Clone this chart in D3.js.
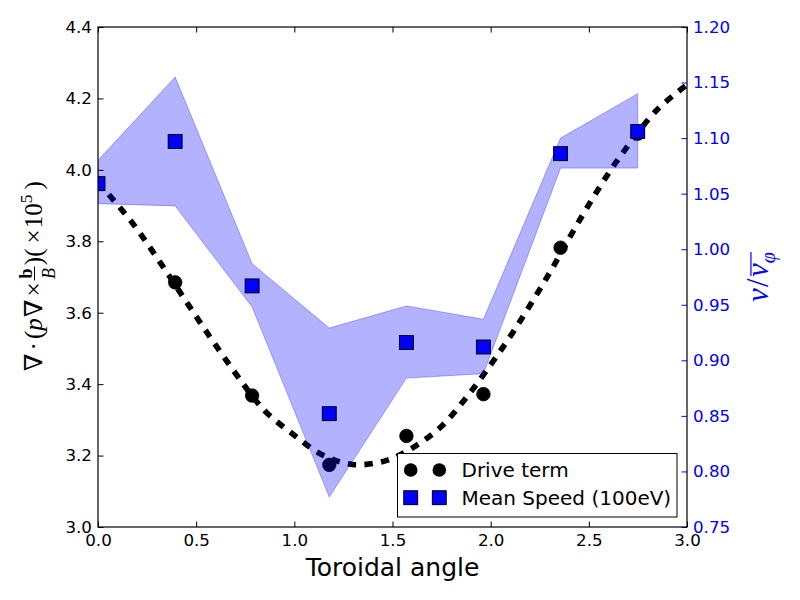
<!DOCTYPE html>
<html><head><meta charset="utf-8">
<script src="https://cdn.jsdelivr.net/npm/d3@7"></script>
<style>body{margin:0;background:#fff}</style>
</head><body><svg id="c" width="800" height="600"></svg>
<script>
// ---- data ----
const angles = [0, 0.393, 0.785, 1.178, 1.571, 1.963, 2.356, 2.749];
const driveTerm = [3.963, 3.685, 3.368, 3.174, 3.255, 3.372, 3.782, 4.101];
const meanSpeed = [1.059, 1.097, 0.967, 0.852, 0.916, 0.912, 1.086, 1.106];
const speedUpper = [1.080, 1.155, 0.987, 0.929, 0.949, 0.937, 1.100, 1.140];
const speedLower = [1.041, 1.039, 0.948, 0.777, 0.884, 0.888, 1.073, 1.073];
const fitX = [0, 0.177, 0.325, 0.464, 0.608, 0.784, 0.859, 0.995, 1.139, 1.297, 1.467, 1.615, 1.750, 1.861, 1.971, 2.112, 2.290, 2.455, 2.637, 2.849, 3.0];
const fitY = [3.966, 3.850, 3.734, 3.619, 3.502, 3.368, 3.320, 3.259, 3.203, 3.175, 3.186, 3.226, 3.282, 3.352, 3.432, 3.544, 3.702, 3.861, 4.020, 4.169, 4.238];
const xTicks = [0, 0.5, 1.0, 1.5, 2.0, 2.5, 3.0];
const leftTicks = [3.0, 3.2, 3.4, 3.6, 3.8, 4.0, 4.2, 4.4];
const rightTicks = [0.75, 0.80, 0.85, 0.90, 0.95, 1.00, 1.05, 1.10, 1.15, 1.20];
const legendLabels = ["Drive term", "Mean Speed (100eV)"];
const xLabel = "Toroidal angle";

const L = 98, R = 687, T = 27, B = 527;
const svg = d3.select("#c");
svg.append("rect").attr("width", 800).attr("height", 600).attr("fill", "#fff");

const x = d3.scaleLinear().domain([0, 3.0]).range([L, R]);
const yL = d3.scaleLinear().domain([3.0, 4.4]).range([B, T]);
const yR = d3.scaleLinear().domain([0.75, 1.20]).range([B, T]);

svg.append("defs").append("clipPath").attr("id", "clip")
  .append("rect").attr("x", L).attr("y", T).attr("width", R - L).attr("height", B - T);
const plot = svg.append("g").attr("clip-path", "url(#clip)");

// fitted dashed curve (left axis)
plot.append("path")
  .datum(fitX.map((d, i) => [d, fitY[i]]))
  .attr("d", d3.line().x(d => x(d[0])).y(d => yL(d[1])).curve(d3.curveCatmullRom))
  .attr("fill", "none").attr("stroke", "#000").attr("stroke-width", 5.6)
  .attr("stroke-dasharray", "8.33,8.33");

// drive term circles
plot.selectAll("circle.drive").data(angles).enter().append("circle")
  .attr("class", "drive")
  .attr("cx", d => x(d)).attr("cy", (d, i) => yL(driveTerm[i]))
  .attr("r", 6.8).attr("fill", "#000").attr("stroke", "#000").attr("stroke-width", 0.7);

// band (right axis)
plot.append("path")
  .datum(angles.map((d, i) => [d, speedLower[i], speedUpper[i]]))
  .attr("d", d3.area().x(d => x(d[0])).y0(d => yR(d[1])).y1(d => yR(d[2])))
  .attr("fill", "#0000ff").attr("fill-opacity", 0.3)
  .attr("stroke", "#0000ff").attr("stroke-opacity", 0.3).attr("stroke-width", 1);

// mean speed squares
const S = 13.9;
plot.selectAll("rect.speed").data(angles).enter().append("rect")
  .attr("class", "speed")
  .attr("x", d => x(d) - S / 2).attr("y", (d, i) => yR(meanSpeed[i]) - S / 2)
  .attr("width", S).attr("height", S)
  .attr("fill", "#0000ff").attr("stroke", "#000").attr("stroke-width", 1);

// axes
const tickFont = "DejaVu Sans, sans-serif";
function styleAxis(g, color) {
  g.select(".domain").remove();
  g.selectAll("text").attr("font-family", tickFont).attr("font-size", 16.7).attr("fill", color);
  g.selectAll("line").attr("stroke", color).attr("stroke-width", 1);
}
svg.append("g").attr("transform", `translate(0,${B})`)
  .call(d3.axisBottom(x).tickValues(xTicks).tickFormat(d3.format(".1f")).tickSizeInner(-5.5).tickSizeOuter(0).tickPadding(7))
  .call(g => styleAxis(g, "#000"));
svg.append("g").attr("transform", `translate(0,${T})`)
  .call(d3.axisTop(x).tickValues(xTicks).tickFormat("").tickSizeInner(-5.5).tickSizeOuter(0))
  .call(g => styleAxis(g, "#000"));
svg.append("g").attr("transform", `translate(${L},0)`)
  .call(d3.axisLeft(yL).tickValues(leftTicks).tickFormat(d3.format(".1f")).tickSizeInner(-5.5).tickSizeOuter(0).tickPadding(6))
  .call(g => styleAxis(g, "#000"));
svg.append("g").attr("transform", `translate(${R},0)`)
  .call(d3.axisRight(yR).tickValues(rightTicks).tickFormat(d3.format(".2f")).tickSizeInner(-5.5).tickSizeOuter(0).tickPadding(6))
  .call(g => styleAxis(g, "#0000ff"));

// spines
svg.append("rect").attr("x", L).attr("y", T).attr("width", R - L).attr("height", B - T)
  .attr("fill", "none").attr("stroke", "#000").attr("stroke-width", 1.2);

// x label
svg.append("text").attr("x", (L + R) / 2).attr("y", 576).attr("text-anchor", "middle")
  .attr("font-family", tickFont).attr("font-size", 25).text(xLabel);

// math label helper
const serif = "Liberation Serif, DejaVu Serif, serif";
function mathLabel(cx, base, fs, color, pieces) {
  const outer = svg.append("g").attr("transform", `translate(${cx},${base}) rotate(-90)`);
  const g = outer.append("g");
  let cur = 0;
  function put(t, opts, xx, yy) {
    const el = g.append("text").attr("x", xx).attr("y", yy)
      .attr("font-family", opts.family || serif)
      .attr("font-size", fs * (opts.scale || 1))
      .attr("font-style", opts.italic ? "italic" : "normal")
      .attr("font-weight", opts.bold ? "bold" : "normal")
      .attr("fill", color).text(t);
    return el;
  }
  pieces.forEach(p => {
    if (p.gap) { cur += p.gap * fs; return; }
    if (p.frac) {
      const n = put(p.frac[0].t, p.frac[0], 0, -0.42 * fs);
      const d = put(p.frac[1].t, p.frac[1], 0, 0.5 * fs);
      const wn = n.node().getComputedTextLength(), wd = d.node().getComputedTextLength();
      const w = Math.max(wn, wd) + 0.12 * fs;
      n.attr("x", cur + (w - wn) / 2);
      d.attr("x", cur + (w - wd) / 2);
      g.append("line").attr("x1", cur).attr("x2", cur + w).attr("y1", -0.3 * fs).attr("y2", -0.3 * fs)
        .attr("stroke", color).attr("stroke-width", 1);
      cur += w;
      return;
    }
    const el = put(p.t, p, cur, (p.dy || 0) * fs);
    cur += el.node().getComputedTextLength();
  });
  g.attr("transform", `translate(${-cur / 2},0)`);
  return cur;
}

mathLabel(42, 276, 25, "#000", [
  {t: "\u2207", family: "DejaVu Serif, serif"},
  {gap: 0.12}, {t: "\u00B7"}, {gap: 0.12},
  {t: "("}, {t: "p", italic: true}, {gap: 0.05},
  {t: "\u2207", family: "DejaVu Serif, serif"},
  {gap: 0.12}, {t: "\u00D7"}, {gap: 0.08},
  {frac: [{t: "b", bold: true, scale: 0.72}, {t: "B", italic: true, scale: 0.72}]},
  {gap: 0.05}, {t: ")"}, {t: "("}, {gap: 0.2}, {t: "\u00D7"}, {gap: 0.05},
  {t: "10"}, {t: "5", scale: 0.7, dy: -0.4}, {gap: 0.2}, {t: ")"}
]);

// right label  v / overline{v_phi}
(function () {
  const fs = 31, color = "#0000ff";
  const outer = svg.append("g").attr("transform", `translate(768,277) rotate(-90)`);
  const g = outer.append("g");
  let cur = 0;
  const t1 = g.append("text").attr("x", cur).attr("y", 0).attr("font-family", serif).attr("font-style", "italic")
    .attr("font-size", fs).attr("fill", color).text("v");
  cur += t1.node().getComputedTextLength() + 0.04 * fs;
  const t2 = g.append("text").attr("x", cur).attr("y", 0).attr("font-family", serif)
    .attr("font-size", fs).attr("fill", color).text("/");
  cur += t2.node().getComputedTextLength() + 0.04 * fs;
  const start = cur;
  const t3 = g.append("text").attr("x", cur).attr("y", 0).attr("font-family", serif).attr("font-style", "italic")
    .attr("font-size", fs).attr("fill", color).text("v");
  cur += t3.node().getComputedTextLength();
  const t4 = g.append("text").attr("x", cur).attr("y", 0.22 * fs).attr("font-family", serif).attr("font-style", "italic")
    .attr("font-size", fs * 0.65).attr("fill", color).text("\u03C6");
  cur += t4.node().getComputedTextLength();
  g.append("line").attr("x1", start + 1).attr("x2", cur).attr("y1", -0.55 * fs).attr("y2", -0.55 * fs)
    .attr("stroke", color).attr("stroke-width", 1.2);
  g.attr("transform", `translate(${-cur / 2},0)`);
})();

// legend
const lg = svg.append("g");
lg.append("rect").attr("x", 397.5).attr("y", 453.5).attr("width", 279.5).attr("height", 63.5)
  .attr("fill", "#fff").attr("stroke", "#000").attr("stroke-width", 1);
const rows = [470, 497.7];
[410.7, 439.3].forEach(mx => {
  lg.append("circle").attr("cx", mx).attr("cy", rows[0]).attr("r", 6.8).attr("fill", "#000");
  lg.append("rect").attr("x", mx - S / 2).attr("y", rows[1] - S / 2).attr("width", S).attr("height", S)
    .attr("fill", "#0000ff").attr("stroke", "#000").attr("stroke-width", 1);
});
legendLabels.forEach((t, i) => {
  lg.append("text").attr("x", 461.5).attr("y", rows[i] + 7.2)
    .attr("font-family", tickFont).attr("font-size", 20).attr("fill", "#000").text(t);
});
</script></body></html>
